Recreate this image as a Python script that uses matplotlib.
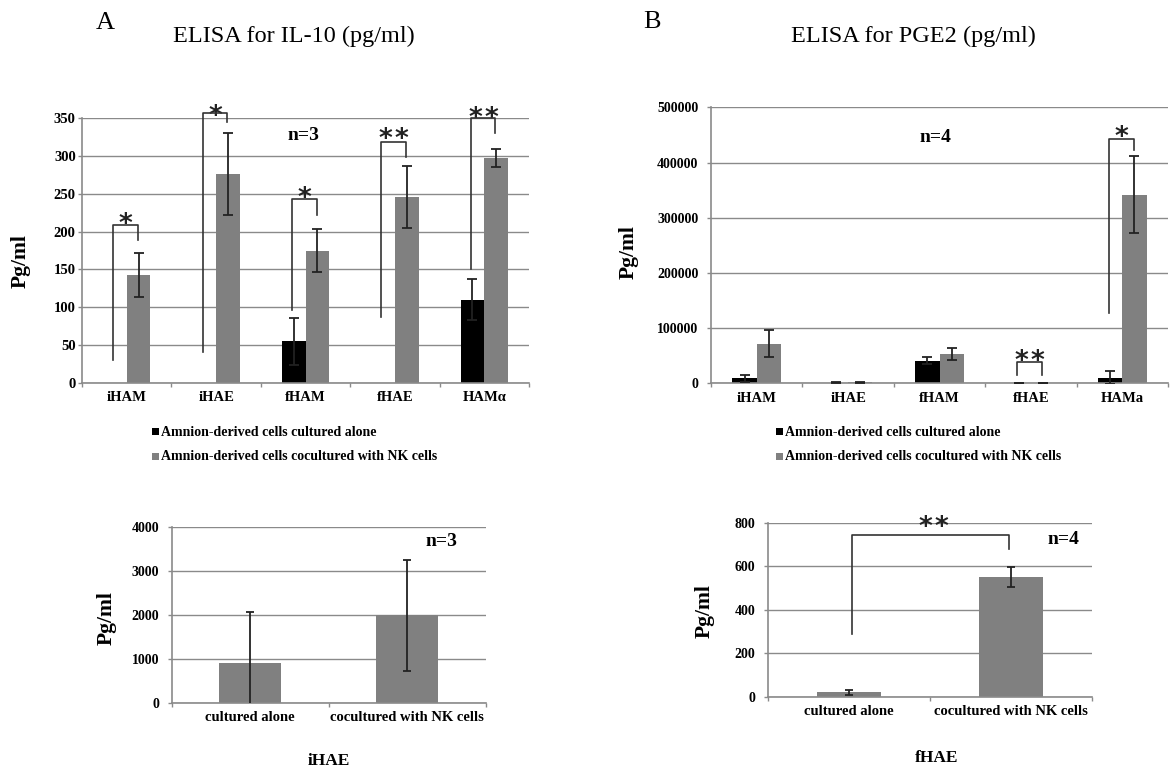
import matplotlib
matplotlib.use("Agg")
import matplotlib.pyplot as plt
from matplotlib.patches import Rectangle
import numpy as np

# ---------------- data ----------------
il10_categories = ['iHAM', 'iHAE', 'fHAM', 'fHAE', 'HAMα']
il10_alone = [0, 0, 55, 0, 110]
il10_alone_err = [0, 0, 31, 0, 27]
il10_cocult = [143, 276, 175, 246, 297]
il10_cocult_err = [29, 54, 28, 41, 12]
# (category, left bottom, top, right bottom, label, label level)
il10_brackets = [(0, 30, 209, 189, '*', 220),
                 (1, 40, 357, 345, '*', 363),
                 (2, 96, 243, 222, '*', 254),
                 (3, 87, 318, 299, '**', 332),
                 (4, 150, 350, 330, '**', 360)]

pge2_categories = ['iHAM', 'iHAE', 'fHAM', 'fHAE', 'HAMa']
pge2_alone = [9000, 900, 41000, 20, 10000]
pge2_alone_err = [6000, 1150, 6000, 12, 12000]
pge2_cocult = [72000, 2000, 52500, 550, 342000]
pge2_cocult_err = [25000, 1250, 11000, 47, 69000]
pge2_brackets = [(3, 15000, 39100, 15000, '**', 54300),
                 (4, 126800, 442600, 422700, '*', 460700)]

group_labels = ['cultured alone', 'cocultured with NK cells']
ihae_values = [910, 1990]
ihae_err = [1150, 1260]
fhae_values = [20, 550]
fhae_err = [12, 47]
fhae_bracket = (288, 743, 678, '**', 817)

legend_labels = ['Amnion-derived cells cultured alone',
                 'Amnion-derived cells cocultured with NK cells']

# ---------------- style ----------------
W, H = 1171, 773
BLACK = '#000000'
GRAY = '#808080'
GRID = '#8a8a8a'
SERIF = 'Liberation Serif'
plt.rcParams['font.family'] = [SERIF, 'DejaVu Sans']

fig = plt.figure(figsize=(W / 100, H / 100), dpi=100)


def rect(x0, y0, x1, y1):
    return [x0 / W, 1 - y1 / H, (x1 - x0) / W, (y1 - y0) / H]


def fpos(x, y):
    return x / W, 1 - y / H


def style_axes(ax, ncat, ymax, yticks, ypad, yfs=10, xpad=6):
    ax.set_xlim(-0.5, ncat - 0.5)
    ax.set_ylim(0, ymax)
    for s in ['top', 'right']:
        ax.spines[s].set_visible(False)
    for s in ['left', 'bottom']:
        ax.spines[s].set_color(GRID)
        ax.spines[s].set_linewidth(1.2)
    ax.set_yticks(yticks)
    ax.set_yticklabels([str(int(t)) for t in yticks], fontsize=yfs,
                       fontweight='bold', family=SERIF)
    ax.tick_params(axis='y', direction='out', length=3, width=1,
                   color=GRID, pad=ypad)
    ax.yaxis.grid(True, color=GRID, linewidth=1)
    ax.set_axisbelow(True)
    ax.set_xticks(np.arange(ncat))
    ax.set_xticks(np.arange(ncat + 1) - 0.5, minor=True)
    ax.tick_params(axis='x', which='major', length=0, pad=xpad)
    ax.tick_params(axis='x', which='minor', direction='out', length=3,
                   width=1, color=GRID)


def star(ax, x, y, label, size=19):
    n = len(label)
    spacing = 11.5  # points between star centres
    for i in range(n):
        dx = (i - (n - 1) / 2) * spacing
        ax.annotate('*', xy=(x, y), xytext=(dx, -0.59 * size),
                    textcoords='offset points', ha='center', va='baseline',
                    fontsize=size, family='DejaVu Sans', fontweight='bold',
                    color='#222222', annotation_clip=False)


def bracket(ax, xl, xr, yl, top, yr):
    ax.plot([xl, xl, xr, xr], [yl, top, top, yr], color='#333333',
            lw=1.2, clip_on=False, zorder=5)


def grouped(ax, cats, alone, alone_err, coc, coc_err, brackets):
    x = np.arange(len(cats))
    bw = 0.265
    ax.bar(x - bw / 2, alone, bw, color=BLACK, zorder=2)
    ax.bar(x + bw / 2, coc, bw, color=GRAY, zorder=2)
    for xi, v, e in zip(x, alone, alone_err):
        if e > 0:
            ax.errorbar(xi - bw / 2, v, yerr=e, fmt='none', ecolor='#222222',
                        elinewidth=1.3, capsize=3.6, capthick=1.3, zorder=3)
    for xi, v, e in zip(x, coc, coc_err):
        if e > 0:
            ax.errorbar(xi + bw / 2, v, yerr=e, fmt='none', ecolor='#222222',
                        elinewidth=1.3, capsize=3.6, capthick=1.3, zorder=3)
    for (c, yl, top, yr, lab, ly) in brackets:
        xl, xr = c - 0.15, c + 0.125
        bracket(ax, xl, xr, yl, top, yr)
        star(ax, (xl + xr) / 2, ly, lab)
    ax.set_xticklabels(cats, fontsize=10.5, fontweight='bold', family=SERIF)


# ---------------- Panel A top ----------------
axA = fig.add_axes(rect(82, 118.3, 529, 382.7))
style_axes(axA, 5, 350, np.arange(0, 351, 50), ypad=1.5, yfs=10.5)
grouped(axA, il10_categories, il10_alone, il10_alone_err,
        il10_cocult, il10_cocult_err, il10_brackets)

# ---------------- Panel B top ----------------
axB = fig.add_axes(rect(711, 107.3, 1168, 383.3))
style_axes(axB, 5, 500000, np.arange(0, 500001, 100000), ypad=6)
grouped(axB, pge2_categories, pge2_alone, pge2_alone_err,
        pge2_cocult, pge2_cocult_err, pge2_brackets)

# ---------------- bottom panels ----------------
def single(ax, vals, errs):
    x = np.arange(len(vals))
    ax.bar(x, vals, 0.395, color=GRAY, zorder=2)
    ax.errorbar(x, vals, yerr=errs, fmt='none', ecolor='#222222',
                elinewidth=1.3, capsize=3.2, capthick=1.3, zorder=3)
    ax.set_xticklabels(group_labels, fontsize=10.5, fontweight='bold',
                       family=SERIF)


axC = fig.add_axes(rect(171.7, 526.7, 486, 702.7))
style_axes(axC, 2, 4000, np.arange(0, 4001, 1000), ypad=6)
single(axC, ihae_values, ihae_err)

axD = fig.add_axes(rect(767.7, 522.7, 1091.7, 696.7))
style_axes(axD, 2, 800, np.arange(0, 801, 200), ypad=6)
single(axD, fhae_values, fhae_err)
yl, top, yr, lab, ly = fhae_bracket
bracket(axD, 0.02, 0.99, yl, top, yr)
star(axD, 0.52, ly, lab)

# ---------------- texts ----------------
fig.text(*fpos(105, 23), 'A', fontsize=19, ha='center', va='center')
fig.text(*fpos(652, 22.5), 'B', fontsize=19, ha='center', va='center')
fig.text(*fpos(294, 36), 'ELISA for IL-10 (pg/ml)', fontsize=17.5,
         ha='center', va='center')
fig.text(*fpos(913, 36.7), 'ELISA for PGE2 (pg/ml)', fontsize=17.5,
         ha='center', va='center')

for (x, y) in [(21, 261), (629, 252), (106.7, 618), (705, 611.5)]:
    fig.text(*fpos(x, y), 'Pg/ml', fontsize=15.5, fontweight='bold',
             rotation=90, ha='center', va='center')

for (x, y, t) in [(303, 135, 'n=3'), (935, 138, 'n=4'),
                  (441, 541.7, 'n=3'), (1063, 539, 'n=4')]:
    fig.text(*fpos(x, y), t, fontsize=14, fontweight='bold',
             ha='center', va='center')

fig.text(*fpos(328.5, 761), 'iHAE', fontsize=12.5, fontweight='bold',
         ha='center', va='center')
fig.text(*fpos(937, 757.5), 'fHAE', fontsize=12.5, fontweight='bold',
         ha='center', va='center')

# legends
for (sx, tx) in [(152, 161), (776, 785)]:
    for (y, col, lab) in [(432, BLACK, legend_labels[0]),
                          (456.7, GRAY, legend_labels[1])]:
        fig.patches.append(Rectangle(fpos(sx, y + 3.5), 7 / W, 7 / H,
                                     transform=fig.transFigure,
                                     facecolor=col, edgecolor='none'))
        fig.text(*fpos(tx, y), lab, fontsize=10, fontweight='bold',
                 ha='left', va='center')

fig.savefig('out.png', dpi=100, facecolor='white')
